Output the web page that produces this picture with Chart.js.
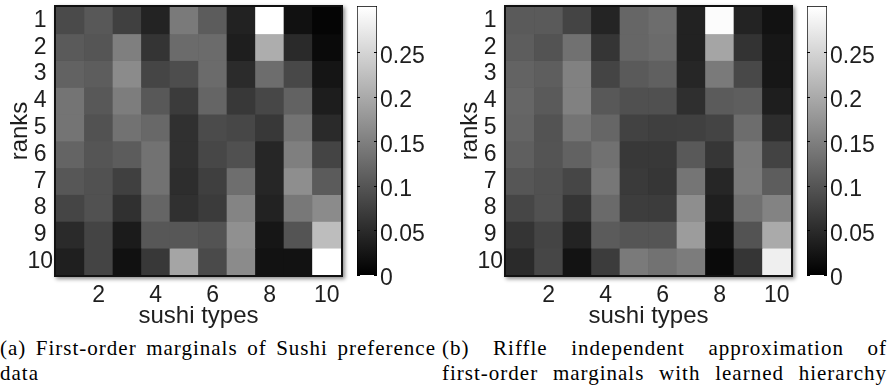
<!DOCTYPE html>
<html><head><meta charset="utf-8">
<script src="https://cdn.jsdelivr.net/npm/chart.js@4.4.0/dist/chart.umd.min.js"></script>
<style>
html,body{margin:0;padding:0;background:#fff;}
body{width:891px;height:389px;position:relative;overflow:hidden;}
canvas{position:absolute;}
.cap{position:absolute;font-family:"Liberation Serif","Times New Roman",serif;font-size:21px;letter-spacing:1px;line-height:25px;color:#000;white-space:nowrap;}
.just{text-align:justify;text-align-last:justify;white-space:normal;}
</style></head><body>
<canvas id="hmA" width="350" height="335" style="left:0;top:0"></canvas>
<canvas id="cbA" width="105" height="300" style="left:340px;top:0"></canvas>
<canvas id="hmB" width="350" height="335" style="left:450px;top:0"></canvas>
<canvas id="cbB" width="105" height="300" style="left:790px;top:0"></canvas>
<div class="cap just" style="left:0;top:336px;width:436px">(a) First-order marginals of Sushi preference</div>
<div class="cap" style="left:0;top:361px;">data</div>
<div class="cap just" style="left:442px;top:336px;width:445px">(b) Riffle independent approximation of</div>
<div class="cap just" style="left:442px;top:361px;width:445px">first-order marginals with learned hierarchy</div>
<script>
const sushiTypes = [1, 2, 3, 4, 5, 6, 7, 8, 9, 10];
const ranks = [1, 2, 3, 4, 5, 6, 7, 8, 9, 10];
const xTickLabels = ['', '2', '', '4', '', '6', '', '8', '', '10'];
const cbTicks = [0, 0.05, 0.1, 0.15, 0.2, 0.25];
const cbTickLabels = ['0', '0.05', '0.1', '0.15', '0.2', '0.25'];
const cbMax = 0.302;
const colorMax = 0.3;

// rows = ranks 1..10, columns = sushi types 1..10
const marginalsA = [
  [0.087, 0.104, 0.075, 0.041, 0.144, 0.108, 0.040, 0.300, 0.020, 0.006],
  [0.106, 0.100, 0.149, 0.061, 0.126, 0.126, 0.035, 0.204, 0.049, 0.012],
  [0.115, 0.109, 0.164, 0.081, 0.091, 0.126, 0.051, 0.128, 0.085, 0.025],
  [0.136, 0.104, 0.147, 0.104, 0.069, 0.119, 0.066, 0.084, 0.115, 0.034],
  [0.136, 0.096, 0.134, 0.122, 0.056, 0.088, 0.084, 0.066, 0.135, 0.049],
  [0.118, 0.100, 0.108, 0.134, 0.056, 0.084, 0.094, 0.045, 0.149, 0.080],
  [0.102, 0.095, 0.075, 0.134, 0.053, 0.074, 0.129, 0.045, 0.167, 0.107],
  [0.081, 0.095, 0.056, 0.119, 0.056, 0.069, 0.155, 0.040, 0.141, 0.164],
  [0.049, 0.080, 0.032, 0.102, 0.102, 0.098, 0.169, 0.026, 0.099, 0.222],
  [0.036, 0.080, 0.020, 0.066, 0.194, 0.087, 0.164, 0.021, 0.021, 0.300]
];
const marginalsB = [
  [0.106, 0.106, 0.080, 0.042, 0.120, 0.128, 0.040, 0.296, 0.041, 0.021],
  [0.109, 0.098, 0.133, 0.062, 0.120, 0.126, 0.040, 0.194, 0.060, 0.027],
  [0.116, 0.111, 0.152, 0.080, 0.106, 0.113, 0.045, 0.144, 0.085, 0.027],
  [0.120, 0.106, 0.152, 0.104, 0.094, 0.094, 0.055, 0.107, 0.111, 0.035],
  [0.118, 0.098, 0.136, 0.120, 0.078, 0.074, 0.075, 0.080, 0.128, 0.053],
  [0.112, 0.099, 0.115, 0.133, 0.066, 0.066, 0.105, 0.064, 0.142, 0.079],
  [0.101, 0.095, 0.082, 0.140, 0.068, 0.064, 0.138, 0.045, 0.144, 0.109],
  [0.082, 0.095, 0.062, 0.125, 0.072, 0.071, 0.167, 0.036, 0.132, 0.154],
  [0.061, 0.080, 0.041, 0.107, 0.100, 0.100, 0.184, 0.022, 0.098, 0.200],
  [0.049, 0.082, 0.022, 0.071, 0.144, 0.134, 0.146, 0.012, 0.062, 0.281]
];

const SANS = '"Liberation Sans", Arial, Helvetica, sans-serif';
const TXT = '#1e1e1e';

function gray(v) {
  const g = Math.round(Math.max(0, Math.min(1, v / colorMax)) * 255);
  return 'rgb(' + g + ',' + g + ',' + g + ')';
}

const framePlugin = {
  id: 'frame',
  beforeDatasetsDraw(chart) {
    const {ctx, chartArea: a} = chart;
    ctx.save();
    ctx.shadowColor = 'rgba(0,0,0,0.45)';
    ctx.shadowBlur = 4;
    ctx.shadowOffsetX = 2;
    ctx.shadowOffsetY = 2;
    ctx.fillStyle = '#111';
    ctx.fillRect(a.left - 2, a.top - 2, a.width + 4, a.height + 4);
    ctx.restore();
  },
  afterDraw(chart) {
    const ctx = chart.ctx;
    ctx.save();
    ctx.translate(20, 131);
    ctx.rotate(-Math.PI / 2);
    ctx.font = '24px ' + SANS;
    ctx.fillStyle = TXT;
    ctx.textAlign = 'center';
    ctx.textBaseline = 'middle';
    ctx.fillText('ranks', 0, 0);
    ctx.restore();
  }
};

function heatmap(id, values) {
  return new Chart(document.getElementById(id), {
    type: 'bar',
    data: {
      labels: sushiTypes.map(String),
      datasets: ranks.map((r, i) => ({
        label: 'rank ' + r,
        data: values[i].map(() => [r - 0.5, r + 0.5]),
        backgroundColor: values[i].map(gray),
        borderWidth: 0,
        grouped: false,
        barPercentage: 1,
        categoryPercentage: 1
      }))
    },
    options: {
      responsive: false,
      animation: false,
      layout: {padding: {top: 7, right: 9, left: 0, bottom: 0}},
      plugins: {legend: {display: false}, tooltip: {enabled: false}},
      scales: {
        x: {
          grid: {display: false, drawTicks: false},
          border: {display: false},
          ticks: {
            font: {size: 23, family: SANS}, color: TXT, padding: 7,
            autoSkip: false, maxRotation: 0,
            callback: (v, i) => xTickLabels[i]
          },
          title: {display: true, text: 'sushi types', font: {size: 24, family: SANS}, color: TXT, padding: {top: 0, bottom: 4}},
          afterFit: s => { s.height = 60; s.paddingLeft = 0; s.paddingRight = 0; }
        },
        y: {
          type: 'linear', reverse: true, min: 0.5, max: 10.5,
          grid: {display: false, drawTicks: false},
          border: {display: false},
          afterBuildTicks: s => { s.ticks = ranks.map(v => ({value: v})); },
          ticks: {
            font: {size: 23, family: SANS}, color: TXT, padding: 3,
            autoSkip: false, crossAlign: 'center', callback: v => String(v)
          },
          afterFit: s => { s.width = 56; s.paddingTop = 0; s.paddingBottom = 0; }
        }
      }
    },
    plugins: [framePlugin]
  });
}

const cbTickPlugin = {
  id: 'cbticks',
  afterDatasetsDraw(chart) {
    const {ctx, chartArea: a} = chart;
    const y = chart.scales.y;
    ctx.save();
    ctx.strokeStyle = '#000';
    ctx.lineWidth = 1;
    cbTicks.forEach(v => {
      const py = Math.round(y.getPixelForValue(v)) + 0.5;
      ctx.beginPath();
      ctx.moveTo(a.right - 3, py); ctx.lineTo(a.right, py);
      ctx.moveTo(a.left, py); ctx.lineTo(a.left + 3, py);
      ctx.stroke();
    });
    ctx.restore();
  }
};

function colorbar(id) {
  return new Chart(document.getElementById(id), {
    type: 'bar',
    data: {
      labels: ['colorbar'],
      datasets: [{
        data: [[0, cbMax]],
        backgroundColor: c => {
          const chart = c.chart;
          if (!chart.chartArea) return '#888';
          const ys = chart.scales.y;
          const g = chart.ctx.createLinearGradient(0, ys.getPixelForValue(0), 0, ys.getPixelForValue(colorMax));
          g.addColorStop(0, '#000');
          g.addColorStop(1, '#fff');
          return g;
        },
        borderColor: '#000',
        borderWidth: 1,
        borderSkipped: false,
        barPercentage: 1,
        categoryPercentage: 1
      }]
    },
    options: {
      responsive: false,
      animation: false,
      layout: {padding: {left: 17, top: 6, bottom: 25, right: 0}},
      plugins: {legend: {display: false}, tooltip: {enabled: false}},
      scales: {
        x: {display: false},
        y: {
          position: 'right', min: 0, max: cbMax,
          grid: {display: false, drawTicks: false},
          border: {display: false},
          afterBuildTicks: s => { s.ticks = cbTicks.map(v => ({value: v})); },
          ticks: {
            font: {size: 23, family: SANS}, color: TXT, padding: 3, labelOffset: 4,
            autoSkip: false, callback: (v, i) => cbTickLabels[i]
          },
          afterFit: s => { s.width = 68; s.paddingTop = 0; s.paddingBottom = 0; }
        }
      }
    },
    plugins: [cbTickPlugin]
  });
}

heatmap('hmA', marginalsA);
colorbar('cbA');
heatmap('hmB', marginalsB);
colorbar('cbB');
</script>
</body></html>
